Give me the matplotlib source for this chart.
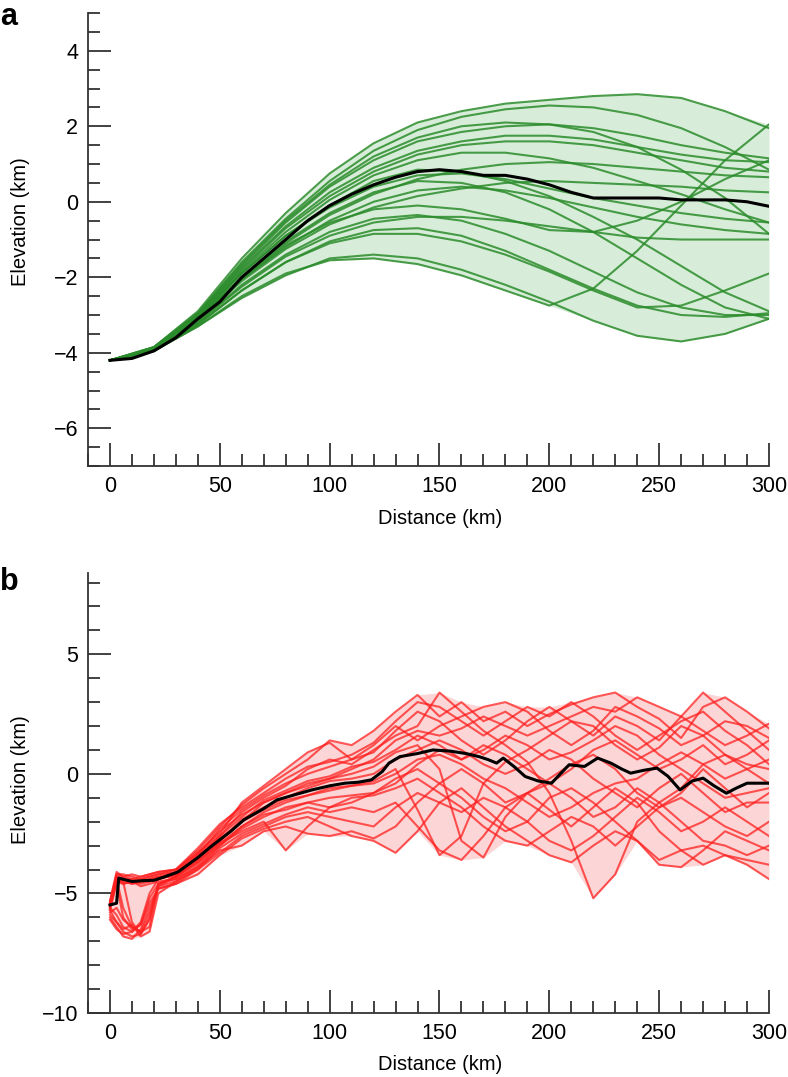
import numpy as np
import matplotlib.pyplot as plt
from matplotlib.ticker import MultipleLocator

plt.rcParams['font.family'] = ['Liberation Sans', 'DejaVu Sans']

# ---- panel a: smooth profiles (km), sampled every 20 km ----
dist_a = [0, 20, 40, 60, 80, 100, 120, 140, 160, 180, 200, 220, 240, 260, 280, 300]
green_profiles = [
    [-4.2, -3.85, -2.9, -1.5, -0.3, 0.75, 1.55, 2.1, 2.4, 2.6, 2.7, 2.8, 2.85, 2.75, 2.4, 1.95],
    [-4.2, -3.85, -2.95, -1.6, -0.45, 0.55, 1.35, 1.9, 2.25, 2.45, 2.55, 2.5, 2.3, 1.95, 1.45, 0.85],
    [-4.2, -3.9, -3.0, -1.7, -0.55, 0.4, 1.1, 1.6, 1.85, 2.0, 2.05, 1.95, 1.75, 1.5, 1.3, 1.15],
    [-4.2, -3.9, -3.0, -1.75, -0.65, 0.25, 0.9, 1.35, 1.6, 1.75, 1.75, 1.65, 1.45, 1.25, 1.1, 1.05],
    [-4.2, -3.9, -3.05, -1.85, -0.8, 0.05, 0.7, 1.1, 1.3, 1.3, 1.15, 0.9, 0.55, 0.2, -0.2, -0.55],
    [-4.2, -3.9, -3.05, -1.9, -0.9, -0.1, 0.55, 0.85, 0.8, 0.55, 0.15, -0.4, -1.0, -1.7, -2.4, -2.9],
    [-4.2, -3.9, -3.1, -2.0, -1.05, -0.3, 0.25, 0.55, 0.5, 0.25, -0.2, -0.8, -1.5, -2.2, -2.8, -3.1],
    [-4.2, -3.9, -3.1, -2.0, -1.1, -0.35, 0.2, 0.6, 0.85, 1.0, 1.05, 1.0, 0.9, 0.8, 0.7, 0.65],
    [-4.2, -3.9, -3.1, -2.05, -1.2, -0.5, 0.0, 0.3, 0.4, 0.3, 0.1, -0.15, -0.4, -0.6, -0.75, -0.85],
    [-4.2, -3.95, -3.15, -2.1, -1.25, -0.6, -0.15, 0.15, 0.35, 0.5, 0.55, 0.5, 0.45, 0.4, 0.3, 0.25],
    [-4.2, -3.95, -3.3, -2.55, -1.95, -1.5, -1.4, -1.5, -1.8, -2.2, -2.65, -3.15, -3.55, -3.7, -3.5, -3.1],
    [-4.2, -3.95, -3.3, -2.5, -1.9, -1.55, -1.5, -1.65, -1.95, -2.35, -2.75, -2.3, -1.3, -0.1, 1.1, 2.05],
    [-4.2, -3.95, -3.25, -2.35, -1.6, -1.1, -0.85, -0.85, -1.05, -1.4, -1.85, -2.35, -2.8, -2.75, -2.35, -1.9],
    [-4.2, -3.9, -3.1, -2.05, -1.15, -0.55, -0.2, -0.1, -0.2, -0.45, -0.75, -0.8, -0.5, 0.0, 0.6, 1.1],
    [-4.2, -3.9, -3.05, -1.9, -0.9, -0.15, 0.4, 0.7, 0.75, 0.6, 0.35, 0.1, -0.1, -0.3, -0.45, -0.55],
    [-4.2, -3.9, -3.0, -1.8, -0.7, 0.15, 0.8, 1.25, 1.5, 1.6, 1.6, 1.5, 1.3, 1.1, 0.9, 0.8],
    [-4.2, -3.95, -3.2, -2.25, -1.45, -0.9, -0.55, -0.4, -0.4, -0.5, -0.65, -0.8, -0.95, -1.0, -1.0, -1.0],
    [-4.2, -3.85, -2.95, -1.65, -0.5, 0.45, 1.2, 1.7, 2.0, 2.1, 2.05, 1.85, 1.45, 0.85, 0.1, -0.85],
    [-4.2, -3.95, -3.2, -2.2, -1.4, -0.8, -0.45, -0.35, -0.5, -0.85, -1.3, -1.85, -2.4, -2.8, -3.0, -3.0],
    [-4.2, -3.95, -3.25, -2.35, -1.6, -1.05, -0.75, -0.7, -0.9, -1.3, -1.8, -2.3, -2.75, -3.0, -3.05, -2.95],
]
mean_a_x = [0, 10, 20, 30, 40, 50, 60, 70, 80, 90, 100, 110, 120, 130, 140, 150,
            160, 170, 180, 190, 200, 210, 220, 230, 240, 250, 260, 270, 280, 290, 300]
mean_a_y = [-4.2, -4.15, -3.95, -3.6, -3.1, -2.65, -2.0, -1.5, -1.0, -0.5, -0.1, 0.2,
            0.45, 0.65, 0.8, 0.85, 0.8, 0.7, 0.7, 0.6, 0.45, 0.25, 0.1, 0.1, 0.1, 0.1,
            0.05, 0.05, 0.05, 0.0, -0.12]

# ---- panel b: rough profiles (km) ----
dist_b = [0, 3, 6, 10, 14, 18, 22, 30, 40, 50, 60, 70, 80, 90, 100, 110, 120, 130,
          140, 150, 160, 170, 180, 190, 200, 210, 220, 230, 240, 250, 260, 270, 280, 290, 300]
red_profiles = [
    [-5.4, -4.2, -4.2, -4.3, -4.4, -4.3, -4.2, -4.0, -3.2, -2.2, -1.3, -0.6, 0.0, 0.6, 1.4, 1.2, 1.8, 2.6, 3.3, 2.4, 3.0, 2.2, 2.6, 2.0, 2.5, 2.9, 3.2, 3.4, 2.8, 2.3, 1.5, 2.8, 3.2, 2.6, 1.9],
    [-5.6, -5.9, -6.4, -6.6, -6.2, -5.0, -4.4, -4.2, -3.5, -2.6, -1.6, -1.0, -0.5, 0.2, 0.6, 0.4, 1.0, 1.6, 2.0, 3.4, 2.6, 1.8, 1.2, 0.5, -0.8, -2.8, -5.2, -4.2, -2.0, -1.2, -0.6, 0.4, 0.8, 0.2, -0.4],
    [-5.5, -4.4, -4.5, -6.2, -6.7, -6.0, -4.6, -4.4, -3.8, -3.0, -2.2, -1.6, -1.2, -0.9, -0.6, -0.5, -0.3, 0.2, -1.5, -3.4, -2.6, -0.4, 0.5, 1.0, 1.6, 2.2, 2.0, 1.2, 0.6, 1.1, 2.0, 1.6, 0.8, 0.4, 0.2],
    [-5.7, -6.2, -6.6, -6.8, -6.7, -6.1, -4.7, -4.3, -3.6, -2.8, -2.0, -1.2, -0.8, -0.4, -0.2, 0.0, 0.3, 0.9, 1.2, 0.2, -2.8, -3.5, -1.8, -0.8, -1.5, -2.2, -1.4, -0.6, -1.2, -2.4, -3.2, -3.0, -3.4, -3.6, -3.8],
    [-5.5, -4.3, -4.4, -4.4, -4.5, -4.4, -4.3, -4.1, -3.3, -2.4, -1.7, -1.2, -0.8, -0.5, -0.2, 0.2, 0.6, 1.4, 1.8, 1.6, 1.9, 2.4, 2.0, 1.6, 2.0, 2.4, 2.8, 2.6, 3.2, 2.8, 2.4, 1.8, 1.2, 1.6, 2.1],
    [-6.0, -6.4, -6.8, -6.9, -6.5, -5.6, -4.8, -4.6, -4.0, -3.3, -2.6, -2.2, -1.8, -1.6, -1.8, -2.0, -2.2, -1.4, -0.8, -1.2, -1.6, -1.0, -1.4, -2.0, -2.8, -3.2, -2.6, -1.8, -1.0, -1.6, -2.4, -2.0, -1.4, -2.0, -2.6],
    [-5.5, -4.5, -4.6, -4.5, -4.7, -4.6, -4.5, -4.4, -3.9, -3.2, -3.0, -2.4, -2.2, -2.5, -2.6, -2.4, -2.7, -2.2, -1.2, -0.4, 0.2, -0.4, -1.2, -0.8, -0.2, 0.4, 0.8, 0.2, -0.8, -1.4, -0.8, 0.2, -0.6, -1.4, -0.8],
    [-5.8, -5.6, -6.1, -6.4, -6.6, -6.4, -4.6, -4.3, -3.7, -2.9, -2.4, -2.0, -3.2, -2.2, -1.4, -1.2, -0.8, -0.4, 0.4, 1.0, 0.6, 1.0, 1.6, 1.2, 0.6, 0.9, 1.4, 2.0, 1.6, 0.8, 0.2, -0.4, -1.0, -0.8, -0.6],
    [-5.3, -4.1, -4.3, -4.4, -4.3, -4.2, -4.1, -4.0, -3.3, -2.5, -1.2, -0.5, 0.2, 0.9, 1.3, 0.6, 0.9, 1.8, 2.6, 2.2, 1.4, 0.8, 1.4, 2.2, 2.8, 2.2, 1.6, 2.4, 2.0, 1.4, 2.4, 3.4, 2.6, 1.8, 1.0],
    [-5.6, -4.4, -5.6, -6.4, -6.6, -5.8, -4.7, -4.5, -3.9, -3.0, -2.3, -1.8, -1.4, -1.2, -1.0, -0.9, -0.8, -0.2, 0.2, -0.4, -1.0, -1.8, -2.4, -2.0, -1.0, -0.6, -1.2, -2.0, -2.8, -3.8, -3.9, -3.2, -2.4, -2.8, -3.2],
    [-5.5, -4.4, -4.5, -4.6, -4.5, -4.5, -4.4, -4.2, -3.5, -2.7, -2.0, -1.5, -1.1, -0.9, -0.7, -0.5, -0.4, 0.0, 0.6, 0.8, 0.4, -0.2, -0.6, -1.2, -1.8, -1.4, -0.8, -0.4, -0.2, 0.4, 0.9, 0.4, -0.2, 0.2, 0.6],
    [-6.1, -6.5, -6.7, -6.6, -6.3, -5.4, -4.8, -4.6, -4.2, -3.4, -2.7, -2.3, -2.0, -1.8, -2.2, -2.6, -2.8, -3.3, -2.4, -1.2, -0.6, -1.4, -2.2, -2.8, -3.4, -3.7, -3.0, -2.4, -2.8, -3.6, -3.2, -3.8, -3.4, -3.8, -4.4],
    [-5.4, -4.3, -4.4, -4.5, -4.4, -4.3, -4.2, -4.1, -3.4, -2.3, -1.5, -0.9, -0.4, 0.0, 0.3, 0.6, 1.2, 2.0, 1.4, 2.0, 2.4, 2.8, 3.0, 2.6, 1.8, 1.2, 1.8, 2.8, 2.4, 1.9, 1.2, 1.6, 2.2, 2.0, 1.5],
    [-5.7, -4.6, -6.0, -6.5, -6.3, -5.2, -4.6, -4.3, -3.7, -2.9, -2.2, -1.7, -1.5, -1.2, -1.4, -1.0, -0.9, -0.6, -0.2, -0.8, -1.4, -2.2, -2.8, -3.0, -2.4, -1.8, -2.2, -3.0, -2.2, -1.4, -1.0, -1.6, -2.2, -2.6, -2.0],
    [-5.5, -4.4, -4.6, -4.5, -4.6, -4.5, -4.4, -4.2, -3.6, -2.8, -1.9, -1.4, -1.0, -0.6, -0.3, -0.2, 0.0, 0.6, 1.0, 1.4, 1.0, 0.4, 0.0, 0.4, 1.0, 0.6, -0.2, -0.8, -1.4, -0.6, 0.0, -0.8, -1.6, -1.2, -1.2],
    [-5.4, -4.2, -4.3, -4.2, -4.3, -4.2, -4.1, -4.0, -3.1, -2.1, -1.4, -0.8, -0.2, 0.3, 0.5, 0.8, 1.3, 2.2, 3.0, 2.8, 2.2, 1.6, 2.2, 2.8, 2.4, 3.0, 2.4, 1.6, 1.0, 1.6, 2.2, 2.6, 1.8, 1.2, 0.4],
    [-5.9, -6.2, -6.5, -6.3, -6.8, -6.6, -5.0, -4.5, -4.0, -3.1, -2.5, -2.1, -1.7, -1.4, -1.6, -1.4, -1.6, -1.2, -2.2, -3.2, -3.6, -2.6, -1.4, -0.8, -0.4, -1.0, -1.8, -1.4, -0.6, -1.2, -2.0, -2.8, -3.0, -3.4, -3.0],
    [-5.6, -4.5, -4.4, -4.6, -4.5, -4.4, -4.3, -4.3, -3.4, -2.6, -1.8, -1.1, -0.7, -0.3, -0.1, 0.3, 0.5, 1.0, 1.6, 1.2, 0.6, 1.2, 0.8, 0.2, -0.4, 0.2, 1.0, 1.4, 0.8, 0.2, 0.6, 1.2, 0.4, 0.8, 1.4],
]
mean_b_x = [0, 3, 4, 10, 16, 20, 25, 31, 40, 46, 55, 61, 70, 76, 85, 92, 100, 107, 113,
            119, 124, 127, 132, 140, 147, 155, 162, 168, 172, 176, 179, 184, 189, 195,
            201, 205, 209, 216, 222, 228, 233, 237, 243, 249, 254, 259.5, 265, 270, 275,
            280.6, 285, 290, 295, 300]
mean_b_y = [-5.48, -5.41, -4.36, -4.5, -4.46, -4.45, -4.3, -4.1, -3.5, -3.04, -2.4, -1.92,
            -1.45, -1.09, -0.85, -0.67, -0.5, -0.39, -0.35, -0.25, 0.1, 0.45, 0.72, 0.85,
            1.0, 0.95, 0.85, 0.72, 0.6, 0.45, 0.66, 0.3, -0.11, -0.3, -0.39, 0.0, 0.38,
            0.31, 0.66, 0.45, 0.2, 0.03, 0.15, 0.24, -0.1, -0.67, -0.3, -0.18, -0.5,
            -0.81, -0.6, -0.39, -0.39, -0.39]


def style_axis(ax, ylim, ymajor, yminor):
    ax.set_xlim(-10, 300)
    ax.set_ylim(*ylim)
    for side in ("top", "right"):
        ax.spines[side].set_visible(False)
    for side in ("left", "bottom"):
        ax.spines[side].set_color("#333333")
        ax.spines[side].set_linewidth(1.3)
    ax.xaxis.set_major_locator(MultipleLocator(50))
    ax.xaxis.set_minor_locator(MultipleLocator(10))
    ax.yaxis.set_major_locator(MultipleLocator(ymajor))
    ax.yaxis.set_minor_locator(MultipleLocator(yminor))
    ax.tick_params(which="both", direction="in", color="#333333", width=1.3,
                   labelsize=15.5)
    ax.tick_params(which="major", length=16.5, pad=7)
    ax.tick_params(which="minor", length=8.5)
    ax.set_xlabel("Distance (km)", fontsize=14.5)
    ax.set_ylabel("Elevation (km)", fontsize=14.5)


def draw_panel(ax, dist, profiles, mx, my, line_col, fill_col):
    arr = np.array(profiles)
    ax.fill_between(dist, arr.min(axis=0), arr.max(axis=0), color=fill_col,
                    lw=0, zorder=1)
    for p in profiles:
        ax.plot(dist, p, color=line_col, lw=1.5, zorder=2)
    ax.plot(mx, my, color="black", lw=2.2, zorder=3)


fig = plt.figure(figsize=(7.88, 10.77), dpi=100)
ax_a = fig.add_axes([0.1117, 0.5673, 0.8642, 0.4206])
ax_b = fig.add_axes([0.1117, 0.0594, 0.8642, 0.4086])

draw_panel(ax_a, dist_a, green_profiles, mean_a_x, mean_a_y,
           (0.17, 0.55, 0.17, 0.85), "#d8edd9")
style_axis(ax_a, (-7, 5), 2, 0.5)

draw_panel(ax_b, dist_b, red_profiles, mean_b_x, mean_b_y,
           (1.0, 0.12, 0.12, 0.75), "#fcd6d6")
style_axis(ax_b, (-10, 8.4), 5, 1)

ax_a.yaxis.set_label_coords(-0.085, 0.54)
ax_b.yaxis.set_label_coords(-0.085, 0.53)
ax_a.xaxis.set_label_coords(0.517, -0.095)
ax_b.xaxis.set_label_coords(0.517, -0.095)

fig.text(0.0, 1 - 25 / 1077, "a", fontsize=22, fontweight="bold", va="baseline")
fig.text(0.0, 1 - 590 / 1077, "b", fontsize=22, fontweight="bold", va="baseline")

fig.savefig("out.png", dpi=100)
